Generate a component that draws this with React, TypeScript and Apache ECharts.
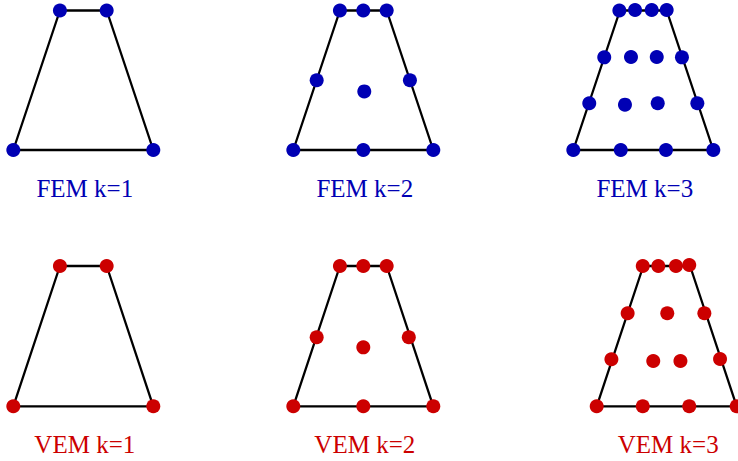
import React, { useEffect, useRef } from "react";
import * as echarts from "echarts";

// Reference element (trapezoid) outline in local unit coordinates
const trapezoidOutline: number[][] = [
  [0, 0], [1, 0], [0.667, 1], [0.333, 1], [0, 0],
];

// Node positions (local unit coordinates)
const femK1Nodes: number[][] = [
  [0, 0], [1, 0], [0.667, 1], [0.333, 1],
];
const femK2Nodes: number[][] = [
  [0, 0], [0.5, 0], [1, 0],
  [0.167, 0.5], [0.833, 0.5],
  [0.333, 1], [0.5, 1], [0.667, 1],
  [0.507, 0.42],
];
const femK3Nodes: number[][] = [
  [0, 0], [0.339, 0], [0.662, 0], [1, 0],
  [0.114, 0.335], [0.369, 0.325], [0.603, 0.335], [0.886, 0.335],
  [0.221, 0.664], [0.412, 0.667], [0.596, 0.667], [0.776, 0.664],
  [0.329, 1], [0.441, 1.004], [0.56, 1.004], [0.667, 1.004],
];
const vemK1Nodes: number[][] = [
  [0, 0], [1, 0], [0.667, 1], [0.333, 1],
];
const vemK2Nodes: number[][] = [
  [0, 0], [0.5, 0], [1, 0],
  [0.167, 0.492], [0.825, 0.492],
  [0.333, 1], [0.5, 1], [0.667, 1],
  [0.5, 0.42],
];
const vemK3Nodes: number[][] = [
  [0, 0], [0.329, 0], [0.661, 0], [1, 0],
  [0.105, 0.335], [0.404, 0.323], [0.598, 0.323], [0.881, 0.337],
  [0.221, 0.663], [0.504, 0.663], [0.769, 0.663],
  [0.329, 1], [0.44, 1], [0.566, 1], [0.661, 1.007],
];

const panelLabels: string[] = ["FEM k=1", "FEM k=2", "FEM k=3", "VEM k=1", "VEM k=2", "VEM k=3"];

const FEM_COLOR = "#0000b4";
const VEM_COLOR = "#cc0000";

export default function App() {
  const ref = useRef<HTMLDivElement>(null);

  useEffect(() => {
    if (!ref.current) return;
    const chart = echarts.init(ref.current, undefined, { renderer: "svg" });

    const nodeSets = [femK1Nodes, femK2Nodes, femK3Nodes, vemK1Nodes, vemK2Nodes, vemK3Nodes];
    const layouts = [
      { left: 13.3, top: 10.5, width: 140, height: 139.5 },
      { left: 293.3, top: 10.5, width: 140, height: 139.5 },
      { left: 573.3, top: 10.5, width: 140, height: 139.5 },
      { left: 13.3, top: 266, width: 140, height: 140.3 },
      { left: 293.3, top: 266, width: 140, height: 140.3 },
      { left: 596.7, top: 266, width: 140, height: 140.3 },
    ];
    const colors = [FEM_COLOR, FEM_COLOR, FEM_COLOR, VEM_COLOR, VEM_COLOR, VEM_COLOR];

    const grid = layouts.map((l) => ({ ...l, containLabel: false }));
    const axisCommon = {
      type: "value" as const,
      min: 0,
      max: 1,
      show: false,
    };
    const xAxis = layouts.map((_, i) => ({ ...axisCommon, gridIndex: i }));
    const yAxis = layouts.map((_, i) => ({ ...axisCommon, gridIndex: i }));

    const series: any[] = [];
    nodeSets.forEach((nodes, i) => {
      series.push({
        type: "line",
        xAxisIndex: i,
        yAxisIndex: i,
        data: trapezoidOutline,
        showSymbol: false,
        symbol: "none",
        clip: false,
        lineStyle: { color: "#000", width: 2.3 },
        z: 1,
        silent: true,
      });
      series.push({
        type: "scatter",
        xAxisIndex: i,
        yAxisIndex: i,
        data: nodes,
        symbol: "circle",
        symbolSize: 14,
        clip: false,
        itemStyle: { color: colors[i], opacity: 1 },
        z: 2,
        silent: true,
      });
    });

    const graphic = layouts.map((l, i) => ({
      type: "text",
      x: l.left + l.width / 2 + 1.5,
      y: l.top + l.height + 38,
      style: {
        text: panelLabels[i],
        fill: colors[i],
        fontFamily: "Liberation Serif",
        fontSize: 25,
        textAlign: "center",
        textVerticalAlign: "middle",
      },
    }));

    chart.setOption({
      animation: false,
      backgroundColor: "#fff",
      grid,
      xAxis,
      yAxis,
      series,
      graphic,
    });

    return () => chart.dispose();
  }, []);

  return (
    <div
      ref={ref}
      style={{ position: "fixed", left: 0, top: 0, width: 738, height: 461 }}
    />
  );
}
